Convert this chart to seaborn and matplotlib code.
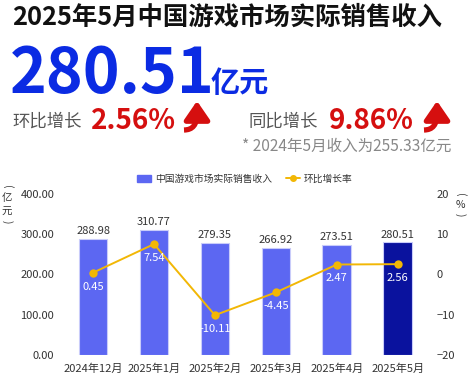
import numpy as np
import matplotlib.pyplot as plt
import seaborn as sns
import pandas as pd
from matplotlib.patches import FancyArrowPatch, Patch
from matplotlib.lines import Line2D

months = ["2024年12月", "2025年1月", "2025年2月", "2025年3月", "2025年4月", "2025年5月"]
revenue = [288.98, 310.77, 279.35, 266.92, 273.51, 280.51]
mom_rate = [0.45, 7.54, -10.11, -4.45, 2.47, 2.56]
left_ticks = [0, 100, 200, 300, 400]
right_ticks = [-20, -10, 0, 10, 20]

sns.set_style("white")
plt.rcParams['font.family'] = ['Noto Sans CJK SC', 'DejaVu Sans']

bar_color = "#5C67F2"
last_color = "#0A129E"
line_color = "#F2B705"
text_color = "#333333"
red = "#D50F0F"

df = pd.DataFrame({"month": months, "revenue": revenue, "rate": mom_rate})
df["pos"] = range(len(df))

fig = plt.figure(figsize=(4.71, 3.84), dpi=100)
W, H = 471, 384


def px(x, y):
    return x / W, 1 - y / H


# header texts
fig.text(0.025, 0.955, "2025年5月中国游戏市场实际销售收入", fontsize=18.3,
         fontweight="bold", color="#111111", va="center")
fig.text(0.022, 0.758, "280.51", fontsize=45, fontweight="bold", color="#0B2BE3", va="baseline")
fig.text(0.446, 0.76, "亿元", fontsize=21, fontweight="bold", color="#0B2BE3", va="baseline")

fig.text(0.027, 0.682, "环比增长", fontsize=12.5, color="#555555", va="center")
fig.text(0.193, 0.684, "2.56%", fontsize=20, fontweight="bold", color=red, va="center")
fig.text(0.528, 0.682, "同比增长", fontsize=12.5, color="#555555", va="center")
fig.text(0.698, 0.684, "9.86%", fontsize=20, fontweight="bold", color=red, va="center")
# curved red "up" arrows: a bent tail plus a straight head
for x0 in (184, 424):
    tail = FancyArrowPatch(px(x0, 130), px(x0 + 13, 114), transform=fig.transFigure,
                           connectionstyle="angle3,angleA=0,angleB=90", arrowstyle="-",
                           color=red, lw=3.8, shrinkA=0, shrinkB=0, capstyle="butt")
    head = FancyArrowPatch(px(x0 + 13, 116), px(x0 + 13, 101), transform=fig.transFigure,
                           arrowstyle="-|>,head_length=0.8,head_width=0.55",
                           color=red, lw=3.8, mutation_scale=14, shrinkA=0, shrinkB=0)
    fig.add_artist(tail)
    fig.add_artist(head)
fig.text(0.958, 0.618, "* 2024年5月收入为255.33亿元", fontsize=11.2, color="#888888",
         ha="right", va="center")

# chart
ax = fig.add_axes([0.133, 0.0755, 0.776, 0.4195])
colors = [bar_color] * (len(months) - 1) + [last_color]
sns.barplot(data=df, x="month", y="revenue", hue="month", palette=colors, legend=False,
            width=0.47, ax=ax, edgecolor="#C9CCFA", linewidth=0.8, saturation=1)
ax.set_ylim(0, 400)
ax.set_xlim(-0.5, len(months) - 0.5)
ax.set_yticks(left_ticks)
ax.set_yticklabels([f"{v:.2f}" for v in left_ticks])
ax.set_xlabel("")
ax.set_ylabel("")
ax.tick_params(axis="both", length=0, labelsize=8, colors=text_color, pad=6)
for s in ax.spines.values():
    s.set_visible(False)
for i, v in enumerate(revenue):
    ax.text(i, v + 6, f"{v:.2f}", ha="center", va="bottom", fontsize=8, color=text_color)

ax2 = ax.twinx()
sns.lineplot(data=df, x="pos", y="rate", ax=ax2, color=line_color, lw=1.4,
             marker="o", markersize=6, markeredgewidth=0)
ax2.set_ylim(-20, 20)
ax2.set_yticks(right_ticks)
ax2.set_ylabel("")
ax2.set_xlabel("")
ax2.tick_params(axis="y", length=0, labelsize=8, colors=text_color, pad=6)
for s in ax2.spines.values():
    s.set_visible(False)
ax2.set_xlim(-0.5, len(months) - 0.5)
for i, v in enumerate(mom_rate):
    ax2.text(i, v - 2.2, f"{v:.2f}", ha="center", va="top", fontsize=8, color="white")

# unit labels, written vertically
for x, items in ((7, [("(", 187), ("亿", 198), ("元", 212), (")", 222)]),
                 (460, [("(", 195), ("%", 205), (")", 215)])):
    for s, y in items:
        rot = -90 if s in "()" else 0
        fig.text(*px(x, y), s, fontsize=7.5, color=text_color, ha="center", va="center",
                 rotation=rot, rotation_mode="anchor")

handles = [Patch(color=bar_color), Line2D([], [], color=line_color, marker="o", markersize=4, lw=1.4)]
fig.legend(handles, ["中国游戏市场实际销售收入", "环比增长率"], loc="center",
           bbox_to_anchor=(0.52, 0.535), ncol=2, frameon=False, fontsize=7,
           handlelength=1.4, handleheight=0.7, columnspacing=1.5, handletextpad=0.4,
           labelcolor=text_color)

fig.savefig("out.png", dpi=100)
